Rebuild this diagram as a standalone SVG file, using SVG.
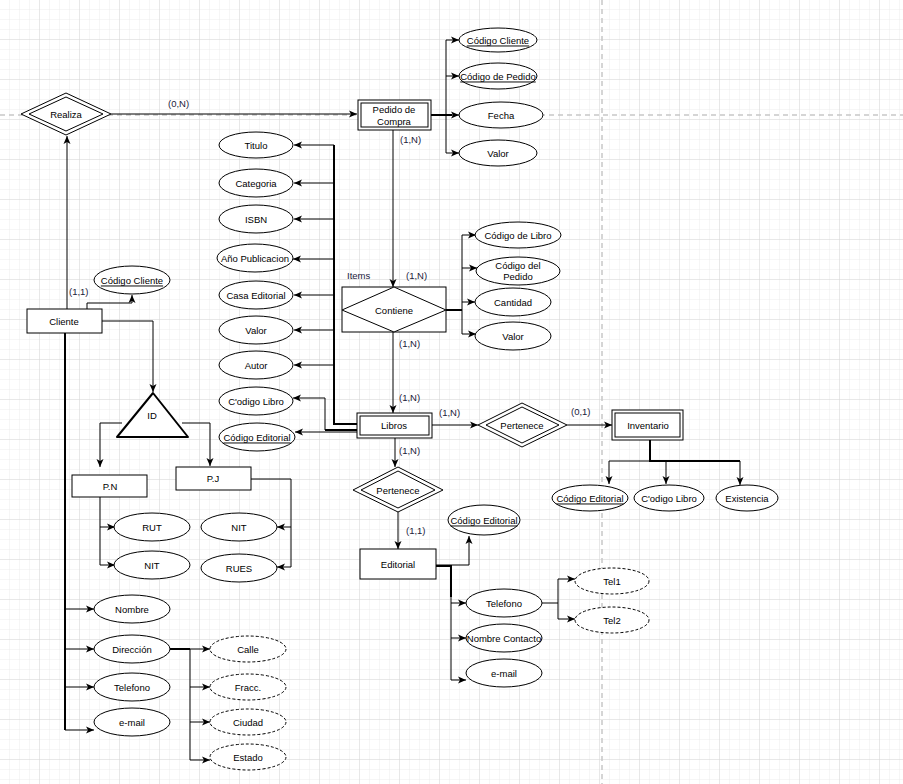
<svg xmlns="http://www.w3.org/2000/svg" width="903" height="784" viewBox="0 0 903 784">
<defs>
<pattern id="g1" width="10" height="10" patternUnits="userSpaceOnUse">
<path d="M10,0 V10 M0,10 H10" fill="none" stroke="#ececec" stroke-width="1"/>
</pattern>
<pattern id="g4" width="40" height="40" patternUnits="userSpaceOnUse">
<rect width="40" height="40" fill="url(#g1)"/>
<path d="M40,0 V40 M0,40 H40" fill="none" stroke="#dadada" stroke-width="1"/>
</pattern>
<marker id="a" markerWidth="9" markerHeight="8" refX="8" refY="4" orient="auto" markerUnits="userSpaceOnUse">
<path d="M0,0.5 L8,4 L0,7.5 L2,4 z" fill="#000"/>
</marker>
<style>
.e{fill:#fff;stroke:#000;stroke-width:1}
.d{fill:#fff;stroke:#000;stroke-width:1;stroke-dasharray:3 2}
.r{fill:#fff;stroke:#000;stroke-width:1}
.t{font-family:"Liberation Sans",Arial,sans-serif;font-size:9.5px;fill:#000;text-anchor:middle;dominant-baseline:central}
.l{font-family:"Liberation Sans",Arial,sans-serif;font-size:9.5px;fill:#1a1a3a;dominant-baseline:central}
.u{text-decoration:underline}
.c path{fill:none;stroke:#000;stroke-width:1}
.c path.k{stroke-width:2}
.m{marker-end:url(#a)}
</style>
</defs>
<rect width="903" height="784" fill="#fff"/>
<rect width="903" height="784" fill="url(#g4)"/>
<path d="M0,115 H903 M602,0 V784" stroke="#c8c8c8" stroke-width="1.5" stroke-dasharray="5 4" fill="none"/>

<g id="connectors" class="c">
<path class="m" d="M111,114 H357"/>
<path class="k" d="M431,115 H452"/>
<path d="M446,40 V153"/>
<path class="m" d="M446,40 H459"/>
<path class="m" d="M446,76 H459"/>
<path class="m" d="M446,115 H459"/>
<path class="m" d="M446,153 H459"/>
<path class="m" d="M393,130 V287"/>
<path class="k" d="M357,424 H334 V145"/>
<path class="m" d="M334,145 H294"/>
<path class="m" d="M334,183 H294"/>
<path class="m" d="M334,219 H294"/>
<path class="m" d="M334,259 H293"/>
<path class="m" d="M334,295 H294"/>
<path class="m" d="M334,330 H294"/>
<path class="m" d="M334,365 H294"/>
<path class="k" d="M357,430 H325"/>
<path class="m" d="M325,430 V398 H293"/>
<path class="m" d="M357,432 H295"/>
<path class="k" d="M446,310 H462"/>
<path d="M462,235 V334"/>
<path class="m" d="M462,235 H476"/>
<path class="m" d="M462,268 H477"/>
<path class="m" d="M462,302 H475"/>
<path class="m" d="M462,334 H476"/>
<path class="m" d="M393,332 V413"/>
<path class="m" d="M432,425 H478"/>
<path class="m" d="M567,425 H612"/>
<path class="k" d="M650,440 V461 H740"/>
<path d="M609,461 H650"/>
<path class="m" d="M609,461 V484"/>
<path class="m" d="M666,461 V484"/>
<path class="m" d="M740,461 V485"/>
<path class="m" d="M395,438 V467"/>
<path class="m" d="M398,512 V549"/>
<path class="m" d="M436,565 H469 V536"/>
<path class="k" d="M436,566 H451 V597"/>
<path d="M451,597 V680"/>
<path class="m" d="M451,603 H466"/>
<path class="m" d="M451,638 H466"/>
<path class="m" d="M451,680 H466"/>
<path d="M542,603 H558 M558,579 V619"/>
<path class="m" d="M558,579 H575"/>
<path class="m" d="M558,619 H575"/>
<path class="m" d="M67,309 V136"/>
<path class="m" d="M87,309 V303 H132 V295"/>
<path class="m" d="M102,321 H153 V392"/>
<path class="m" d="M122,423 H100 V467"/>
<path class="m" d="M182,423 H210 V466"/>
<path d="M100,497 V565"/>
<path class="m" d="M100,527 H115"/>
<path class="m" d="M100,565 H115"/>
<path d="M251,479 H291 V567"/>
<path class="m" d="M291,527 H277"/>
<path class="m" d="M291,567 H277"/>
<path class="k" d="M65,333 V730"/>
<path class="m" d="M65,609 H94"/>
<path class="m" d="M65,649 H94"/>
<path class="m" d="M65,687 H94"/>
<path class="m" d="M65,730 H94"/>
<path class="k" d="M170,649 H190 V649"/>
<path d="M190,649 V760"/>
<path class="m" d="M190,649 H210"/>
<path class="m" d="M190,687 H210"/>
<path class="m" d="M190,722 H210"/>
<path class="m" d="M190,760 H210"/>
</g>

<g id="labels">
<text class="l" x="168" y="103">(0,N)</text>
<text class="l" x="400" y="139">(1,N)</text>
<text class="l" x="347" y="275">Items</text>
<text class="l" x="406" y="275">(1,N)</text>
<text class="l" x="399" y="343">(1,N)</text>
<text class="l" x="399" y="397">(1,N)</text>
<text class="l" x="439" y="412">(1,N)</text>
<text class="l" x="571" y="411">(0,1)</text>
<text class="l" x="399" y="450">(1,N)</text>
<text class="l" x="406" y="530">(1,1)</text>
<text class="l" x="69" y="291">(1,1)</text>
</g>

<g id="realiza">
<polygon class="r" points="21,114 66,93 111,114 66,135"/>
<polygon class="r" points="29,114 66,97 103,114 66,131"/>
<text class="t" x="66" y="114">Realiza</text>
</g>
<g id="pedido">
<rect class="r" x="358" y="100" width="73" height="30"/>
<rect class="r" x="361" y="103" width="67" height="24"/>
<text class="t" x="394" y="109">Pedido de</text>
<text class="t" x="394" y="121">Compra</text>
</g>
<g id="p-codcliente"><ellipse class="e" cx="498" cy="40" rx="39" ry="12"/><text class="t u" x="498" y="40">Código Cliente</text></g>
<g id="p-codpedido"><ellipse class="e" cx="498" cy="76" rx="39" ry="13"/><text class="t u" x="498" y="76">Código de Pedido</text></g>
<g id="p-fecha"><ellipse class="e" cx="501" cy="115" rx="42" ry="13"/><text class="t" x="501" y="115">Fecha</text></g>
<g id="p-valor"><ellipse class="e" cx="498" cy="153" rx="39" ry="13"/><text class="t" x="498" y="153">Valor</text></g>

<g id="l-titulo"><ellipse class="e" cx="256" cy="145" rx="37" ry="13"/><text class="t" x="256" y="145">Titulo</text></g>
<g id="l-categoria"><ellipse class="e" cx="256" cy="183" rx="37" ry="14"/><text class="t" x="256" y="183">Categoria</text></g>
<g id="l-isbn"><ellipse class="e" cx="256" cy="219" rx="37" ry="14"/><text class="t" x="256" y="219">ISBN</text></g>
<g id="l-anio"><ellipse class="e" cx="255" cy="258" rx="38" ry="14"/><text class="t" x="255" y="258">Año Publicacion</text></g>
<g id="l-casa"><ellipse class="e" cx="256" cy="295" rx="37" ry="14"/><text class="t" x="256" y="295">Casa Editorial</text></g>
<g id="l-valor"><ellipse class="e" cx="256" cy="330" rx="37" ry="14"/><text class="t" x="256" y="330">Valor</text></g>
<g id="l-autor"><ellipse class="e" cx="256" cy="365" rx="37" ry="14"/><text class="t" x="256" y="365">Autor</text></g>
<g id="l-codlibro"><ellipse class="e" cx="256" cy="401" rx="37" ry="14"/><text class="t" x="256" y="401">C'odigo Libro</text></g>
<g id="l-codeditorial"><ellipse class="e" cx="257" cy="437" rx="38" ry="14"/><text class="t u" x="257" y="437">Código Editorial</text></g>

<g id="contiene">
<rect class="r" x="342" y="287" width="104" height="45"/>
<polygon class="r" points="342,310 394,287 446,310 394,332"/>
<text class="t" x="394" y="310">Contiene</text>
</g>
<g id="c-codlibro"><ellipse class="e" cx="518" cy="235" rx="43" ry="13"/><text class="t" x="518" y="235">Código de Libro</text></g>
<g id="c-codpedido"><ellipse class="e" cx="518" cy="271" rx="42" ry="14"/><text class="t" x="518" y="265">Código del</text><text class="t" x="518" y="276">Pedido</text></g>
<g id="c-cantidad"><ellipse class="e" cx="513" cy="302" rx="38" ry="14"/><text class="t" x="513" y="302">Cantidad</text></g>
<g id="c-valor"><ellipse class="e" cx="513" cy="336" rx="38" ry="14"/><text class="t" x="513" y="336">Valor</text></g>

<g id="libros">
<rect class="r" x="357" y="413" width="75" height="25"/>
<rect class="r" x="360" y="416" width="69" height="19"/>
<text class="t" x="394" y="425">Libros</text>
</g>
<g id="pertenece1">
<polygon class="r" points="478,425 522,403 567,425 522,447"/>
<polygon class="r" points="486,425 522,407 559,425 522,443"/>
<text class="t" x="522" y="425">Pertenece</text>
</g>
<g id="inventario">
<rect class="r" x="612" y="410" width="71" height="30"/>
<rect class="r" x="615" y="413" width="65" height="24"/>
<text class="t" x="648" y="425">Inventario</text>
</g>
<g id="i-codeditorial"><ellipse class="e" cx="590" cy="498" rx="38" ry="13"/><text class="t u" x="590" y="498">Código Editorial</text></g>
<g id="i-codlibro"><ellipse class="e" cx="669" cy="498" rx="35" ry="13"/><text class="t" x="669" y="498">C'odigo Libro</text></g>
<g id="i-existencia"><ellipse class="e" cx="747" cy="498" rx="31" ry="13"/><text class="t" x="747" y="498">Existencia</text></g>

<g id="pertenece2">
<polygon class="r" points="353,490 398,467 443,490 398,512"/>
<polygon class="r" points="361,490 398,471 435,490 398,508"/>
<text class="t" x="398" y="490">Pertenece</text>
</g>
<g id="editorial">
<rect class="r" x="360" y="549" width="76" height="30"/>
<text class="t" x="398" y="564">Editorial</text>
</g>
<g id="e-codeditorial"><ellipse class="e" cx="484" cy="520" rx="36" ry="15"/><text class="t u" x="484" y="520">Código Editorial</text></g>
<g id="e-telefono"><ellipse class="e" cx="504" cy="603" rx="38" ry="14"/><text class="t" x="504" y="603">Telefono</text></g>
<g id="e-contacto"><ellipse class="e" cx="504" cy="638" rx="38" ry="14"/><text class="t" x="504" y="638">Nombre Contacto</text></g>
<g id="e-email"><ellipse class="e" cx="504" cy="673" rx="38" ry="14"/><text class="t" x="504" y="673">e-mail</text></g>
<g id="e-tel1"><ellipse class="d" cx="612" cy="581" rx="37" ry="13"/><text class="t" x="612" y="581">Tel1</text></g>
<g id="e-tel2"><ellipse class="d" cx="612" cy="620" rx="37" ry="13"/><text class="t" x="612" y="620">Tel2</text></g>

<g id="cliente">
<rect class="r" x="27" y="309" width="75" height="24"/>
<text class="t" x="64" y="321">Cliente</text>
</g>
<g id="cl-codcliente"><ellipse class="e" cx="132" cy="280" rx="38" ry="14"/><text class="t u" x="132" y="280">Código Cliente</text></g>
<g id="id">
<path d="M153,393 L117,437 H188 Z" fill="#fff" stroke="#000" stroke-width="2" stroke-linejoin="round"/>
<text class="t" x="152" y="415">ID</text>
</g>
<g id="pn">
<rect class="r" x="72" y="475" width="75" height="22"/>
<text class="t" x="110" y="486">P.N</text>
</g>
<g id="pj">
<rect class="r" x="176" y="467" width="75" height="23"/>
<text class="t" x="213" y="478">P.J</text>
</g>
<g id="pn-rut"><ellipse class="e" cx="152" cy="527" rx="38" ry="14"/><text class="t" x="152" y="527">RUT</text></g>
<g id="pn-nit"><ellipse class="e" cx="152" cy="565" rx="38" ry="14"/><text class="t" x="152" y="565">NIT</text></g>
<g id="pj-nit"><ellipse class="e" cx="239" cy="527" rx="38" ry="14"/><text class="t" x="239" y="527">NIT</text></g>
<g id="pj-rues"><ellipse class="e" cx="239" cy="568" rx="38" ry="14"/><text class="t" x="239" y="568">RUES</text></g>
<g id="cl-nombre"><ellipse class="e" cx="132" cy="609" rx="38" ry="14"/><text class="t" x="132" y="609">Nombre</text></g>
<g id="cl-direccion"><ellipse class="e" cx="132" cy="649" rx="38" ry="14"/><text class="t" x="132" y="649">Dirección</text></g>
<g id="cl-telefono"><ellipse class="e" cx="132" cy="687" rx="38" ry="14"/><text class="t" x="132" y="687">Telefono</text></g>
<g id="cl-email"><ellipse class="e" cx="132" cy="722" rx="38" ry="14"/><text class="t" x="132" y="722">e-mail</text></g>
<g id="d-calle"><ellipse class="d" cx="248" cy="649" rx="38" ry="13"/><text class="t" x="248" y="649">Calle</text></g>
<g id="d-fracc"><ellipse class="d" cx="248" cy="687" rx="38" ry="13"/><text class="t" x="248" y="687">Fracc.</text></g>
<g id="d-ciudad"><ellipse class="d" cx="248" cy="722" rx="38" ry="13"/><text class="t" x="248" y="722">Ciudad</text></g>
<g id="d-estado"><ellipse class="d" cx="248" cy="757" rx="38" ry="13"/><text class="t" x="248" y="757">Estado</text></g>
</svg>
